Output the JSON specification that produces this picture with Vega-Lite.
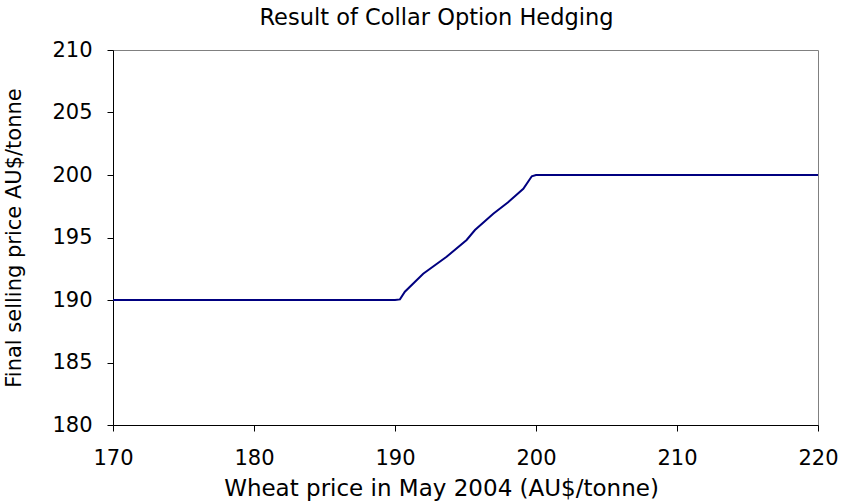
{
  "$schema": "https://vega.github.io/schema/vega-lite/v6.json",
  "width": 705,
  "height": 375,
  "autosize": {"type": "none"},
  "padding": {"left": 113, "top": 50, "right": 25, "bottom": 77},
  "background": "white",
  "title": {
    "text": "Result of Collar Option Hedging",
    "font": "DejaVu Sans",
    "fontSize": 22.5,
    "fontWeight": "normal",
    "color": "#000000",
    "anchor": "middle",
    "dx": -29,
    "offset": 10
  },
  "config": {
    "view": {"stroke": "#808080", "strokeWidth": 1},
    "axis": {
      "labelFont": "DejaVu Sans",
      "titleFont": "DejaVu Sans",
      "labelFontSize": 21,
      "titleFontSize": 21,
      "titleFontWeight": "normal",
      "labelColor": "#000000",
      "titleColor": "#000000",
      "domainColor": "#000000",
      "tickColor": "#000000",
      "grid": false,
      "tickSize": 6,
      "labelFlush": false
    }
  },
  "data": {
    "values": [
      {"wheat": 170, "price": 190},
      {"wheat": 180, "price": 190},
      {"wheat": 190, "price": 190},
      {"wheat": 190.35, "price": 190.05},
      {"wheat": 190.7, "price": 190.66},
      {"wheat": 192.0, "price": 192.1},
      {"wheat": 193.66, "price": 193.46},
      {"wheat": 195.08, "price": 194.8},
      {"wheat": 195.67, "price": 195.6},
      {"wheat": 196.97, "price": 196.9},
      {"wheat": 198.0, "price": 197.8},
      {"wheat": 199.1, "price": 198.9},
      {"wheat": 199.7, "price": 199.9},
      {"wheat": 200.0, "price": 200.0},
      {"wheat": 210, "price": 200},
      {"wheat": 220, "price": 200}
    ]
  },
  "mark": {"type": "line", "color": "#000080", "strokeWidth": 2, "clip": true},
  "encoding": {
    "x": {
      "field": "wheat",
      "type": "quantitative",
      "scale": {"domain": [170, 220], "nice": false, "zero": false},
      "axis": {"values": [170, 180, 190, 200, 210, 220], "title": "Wheat price in May 2004 (AU$/tonne)", "titleFontSize": 23, "labelBaseline": "alphabetic", "labelPadding": 33, "titleX": 328, "titleY": 70, "titleBaseline": "alphabetic"}
    },
    "y": {
      "field": "price",
      "type": "quantitative",
      "scale": {"domain": [180, 210], "nice": false, "zero": false},
      "axis": {"values": [180, 185, 190, 195, 200, 205, 210], "title": "Final selling price AU$/tonne", "labelPadding": 15, "titleX": -99, "titleBaseline": "middle"}
    }
  }
}
